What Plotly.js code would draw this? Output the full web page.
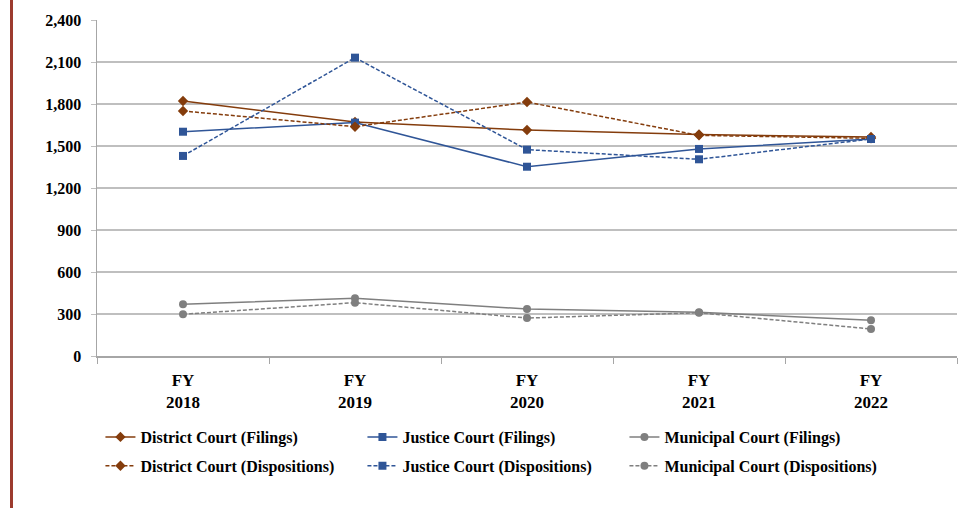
<!DOCTYPE html>
<html>
<head>
<meta charset="utf-8">
<script src="https://cdn.plot.ly/plotly-3.0.1.min.js"></script>
<style>html,body{margin:0;padding:0;background:#fff;}#chart{width:964px;height:508px;}</style>
</head>
<body>
<div id="chart"></div>
<script>
const categories = ["FY 2018", "FY 2019", "FY 2020", "FY 2021", "FY 2022"];
const tickLabels = ["FY<br>2018", "FY<br>2019", "FY<br>2020", "FY<br>2021", "FY<br>2022"];
const districtFilings = [1821, 1671, 1614, 1582, 1564];
const justiceFilings = [1602, 1667, 1352, 1479, 1550];
const municipalFilings = [369, 412, 336, 312, 255];
const districtDispositions = [1750, 1638, 1814, 1576, 1555];
const justiceDispositions = [1429, 2131, 1474, 1405, 1550];
const municipalDispositions = [298, 381, 271, 309, 193];

const brown = "#843C0C", blue = "#2F5597", gray = "#7F7F7F";
const dashPat = "4px,2px";
const FONT = "Liberation Serif, Times New Roman, serif";

function tr(name, y, color, sym, size, dashed, legend) {
  return {
    type: "scatter", mode: "lines+markers", name: name, x: categories, y: y,
    line: {color: color, width: 1.5, dash: dashed ? dashPat : "solid"},
    marker: {color: color, symbol: sym, size: size},
    legend: legend
  };
}

const data = [
  tr("District Court (Filings)", districtFilings, brown, "diamond", 8, false, "legend"),
  tr("Justice Court (Filings)", justiceFilings, blue, "square", 8, false, "legend"),
  tr("Municipal Court (Filings)", municipalFilings, gray, "circle", 8, false, "legend"),
  tr("District Court (Dispositions)", districtDispositions, brown, "diamond", 8, true, "legend2"),
  tr("Justice Court (Dispositions)", justiceDispositions, blue, "square", 8, true, "legend2"),
  tr("Municipal Court (Dispositions)", municipalDispositions, gray, "circle", 8, true, "legend2")
];

const legendCommon = {
  orientation: "h", xanchor: "left", yanchor: "middle", x: 0.004,
  font: {family: FONT, size: 16, color: "#000", weight: "bold"},
  entrywidth: 217, entrywidthmode: "pixels", itemwidth: 30,
  bgcolor: "rgba(0,0,0,0)", traceorder: "normal"
};

const layout = {
  width: 964, height: 508,
  margin: {l: 97, r: 7, t: 20, b: 152},
  paper_bgcolor: "#fff", plot_bgcolor: "#fff",
  showlegend: true,
  font: {family: FONT, size: 15, color: "#000", weight: "bold"},
  xaxis: {
    type: "category", tickvals: categories, ticktext: tickLabels,
    tickson: "boundaries", ticks: "outside", ticklen: 6, tickcolor: "#a6a6a6",
    showline: true, linecolor: "#a6a6a6", linewidth: 1.5, showgrid: false,
    tickfont: {family: FONT, size: 17, color: "#000", weight: "bold"},
    zeroline: false, range: [-0.5, 4.5], ticklabelstandoff: 8
  },
  yaxis: {
    range: [0, 2400], dtick: 300, tick0: 0, tickformat: ",",
    showgrid: true, gridcolor: "#bfbfbf", gridwidth: 1.5,
    showline: true, linecolor: "#a6a6a6", linewidth: 1.5,
    ticks: "outside", ticklen: 5, tickcolor: "#bfbfbf",
    tickfont: {family: FONT, size: 16, color: "#000", weight: "bold"},
    zeroline: false, ticklabelstandoff: 6
  },
  legend: Object.assign({}, legendCommon, {y: -0.241}),
  legend2: Object.assign({}, legendCommon, {y: -0.327}),
  shapes: [{
    type: "line", xref: "paper", yref: "paper", xsizemode: "pixel", xanchor: 0,
    x0: -85.5, x1: -85.5, y0: 1.1, y1: -0.5,
    line: {color: "#9C3B2E", width: 3}
  }]
};

Plotly.newPlot("chart", data, layout, {displayModeBar: false, staticPlot: true});
</script>
</body>
</html>
